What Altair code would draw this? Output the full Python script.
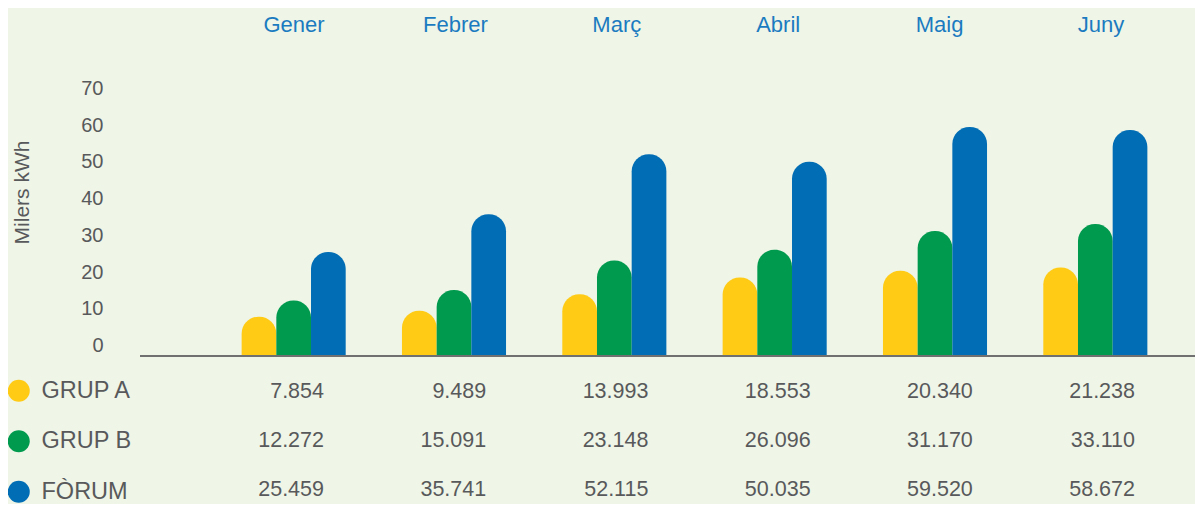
import altair as alt
import pandas as pd

months = ["Gener", "Febrer", "Març", "Abril", "Maig", "Juny"]
series = ["GRUP A", "GRUP B", "FÒRUM"]
grup_a = [7.854, 9.489, 13.993, 18.553, 20.340, 21.238]
grup_b = [12.272, 15.091, 23.148, 26.096, 31.170, 33.110]
forum = [25.459, 35.741, 52.115, 50.035, 59.520, 58.672]
y_ticks = [0, 10, 20, 30, 40, 50, 60, 70]
colors = ["#FFCB14", "#009A4E", "#006DB5"]

rows = []
for s, vals in zip(series, [grup_a, grup_b, forum]):
    for m, v in zip(months, vals):
        rows.append({"month": m, "series": s, "value": v})
df = pd.DataFrame(rows)
mdf = pd.DataFrame({"month": months})

TEXT = "#58595b"
BASE = -2.86

yscale = alt.Scale(domain=[BASE, 70], range=[308, 40.5], nice=False, zero=False)
yaxis = alt.Axis(values=y_ticks, domain=False, ticks=False, tickSize=0, grid=False,
                 labelPadding=37, labelFontSize=20, labelColor=TEXT,
                 title="Milers kWh", titleFontSize=21, titleFontWeight="normal",
                 titleColor=TEXT, titleX=-118, titleY=144, titleAngle=270,
                 titleAlign="center", titleBaseline="middle")

bars = alt.Chart(df).mark_bar(cornerRadiusTopLeft=17, cornerRadiusTopRight=17).encode(
    x=alt.X("month:N", sort=months, axis=None,
            scale=alt.Scale(range=[73.5, 1035.5], paddingInner=0.351, paddingOuter=0.1755)),
    xOffset=alt.XOffset("series:N", sort=series, scale=alt.Scale(paddingInner=0, paddingOuter=0)),
    y=alt.Y("value:Q", scale=yscale, axis=yaxis),
    y2=alt.Y2(datum=BASE),
    color=alt.Color("series:N", sort=series,
                    scale=alt.Scale(domain=series, range=colors),
                    legend=alt.Legend(title=None, orient="none", legendX=-133, legendY=331,
                                      symbolType="circle", symbolSize=484, symbolStrokeWidth=0,
                                      labelFontSize=23.5, labelColor=TEXT, labelOffset=11,
                                      rowPadding=25.5, padding=0)),
)

baseline = alt.Chart(mdf).mark_rule(color="#707070", strokeWidth=2).encode(
    y=alt.Y(datum=BASE, scale=yscale, axis=yaxis)
)

inner = alt.layer(bars, baseline)

month_text = alt.Chart(mdf).mark_text(
    fontSize=22, color="#1B7BC0", align="center", baseline="middle"
).encode(
    x=alt.X("month:N", sort=months, axis=None,
            scale=alt.Scale(type="point", range=[154, 961], padding=0)),
    y=alt.value(-23),
    text="month:N",
)

table = alt.Chart(df).mark_text(
    fontSize=21.5, color=TEXT, align="right", baseline="middle"
).encode(
    x=alt.X("month:N", sort=months, axis=None,
            scale=alt.Scale(type="point", range=[184, 995], padding=0)),
    y=alt.Y("series:N", sort=series, axis=None,
            scale=alt.Scale(type="point", domain=series, range=[344, 442], padding=0)),
    text=alt.Text("value:Q", format=".3f"),
)

chart = alt.layer(inner, month_text, table).resolve_scale(
    x="independent", y="independent"
).properties(
    width=1055, height=456,
    padding={"left": 132, "top": 40, "right": 0, "bottom": 0},
    autosize=alt.AutoSizeParams(type="none"),
    background="#EFF5E7",
    view=alt.ViewBackground(stroke=None, strokeWidth=0, fill=None),
).configure_view(stroke=None, strokeWidth=0, fill=None).configure(font="Liberation Sans")

chart.save("out.html", embed_options={"renderer": "svg", "actions": False})
